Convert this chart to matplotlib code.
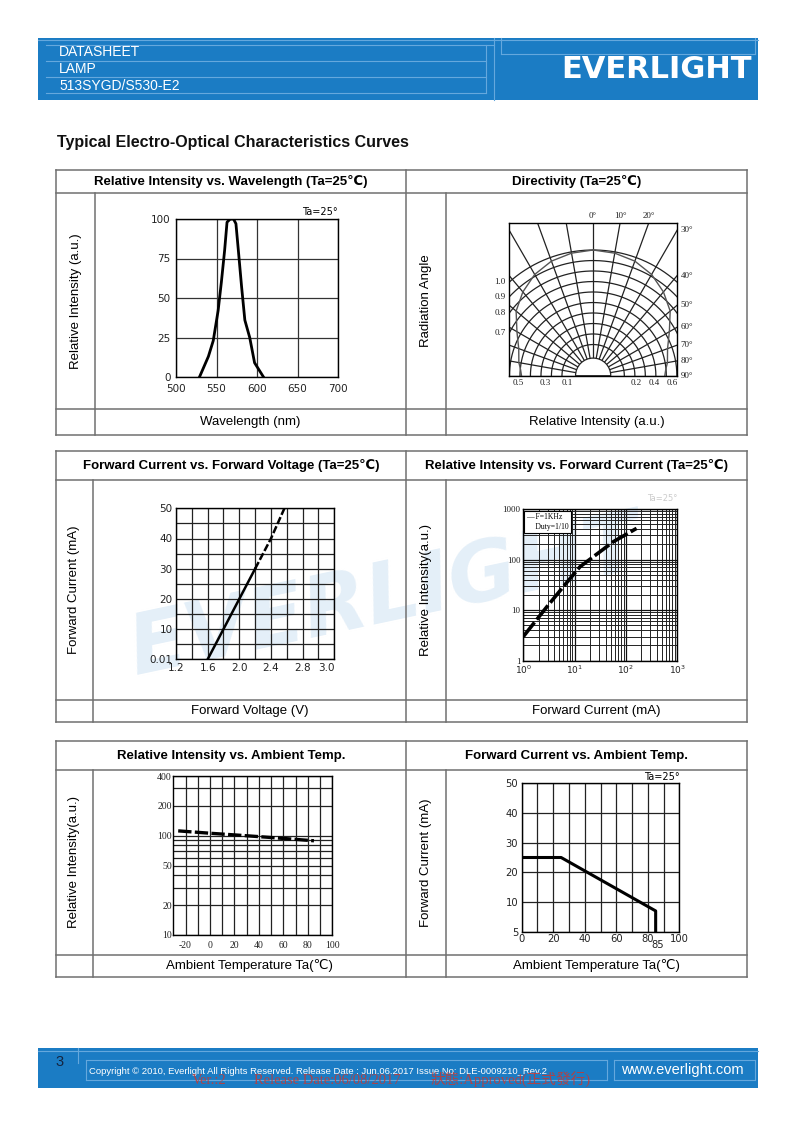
import matplotlib
matplotlib.use("Agg")
import matplotlib.pyplot as plt
import numpy as np
from matplotlib.patches import Rectangle, Wedge
from matplotlib.ticker import NullFormatter, NullLocator

plt.rcParams["font.family"] = ["Liberation Sans", "DejaVu Sans"]

W, H = 794, 1123

# ---- texts ----
doc_lines = ["DATASHEET", "LAMP", "513SYGD/S530-E2"]
page_title = "Typical Electro-Optical Characteristics Curves"
panel_titles = [
    "Relative Intensity vs. Wavelength (Ta=25℃)",
    "Directivity (Ta=25℃)",
    "Forward Current vs. Forward Voltage (Ta=25℃)",
    "Relative Intensity vs. Forward Current (Ta=25℃)",
    "Relative Intensity vs. Ambient Temp.",
    "Forward Current vs. Ambient Temp.",
]
y_titles = ["Relative Intensity (a.u.)", "Radiation Angle", "Forward Current (mA)",
            "Relative Intensity(a.u.)", "Relative Intensity(a.u.)", "Forward Current (mA)"]
x_titles = ["Wavelength (nm)", "Relative Intensity (a.u.)", "Forward Voltage (V)",
            "Forward Current (mA)", "Ambient Temperature Ta(℃)", "Ambient Temperature Ta(℃)"]
copyright_txt = ("Copyright © 2010, Everlight All Rights Reserved. Release Date : Jun.06.2017 "
                 "Issue No: DLE-0009210_Rev.2")
stamp_txt = ["Ver.:2", "Release Date:06/08/2017", "狀態:Approved(正式發行)"]

# ---- data ----
# relative intensity vs wavelength
wl_nm = [529, 540, 546, 552, 556, 560, 563, 567, 571, 574, 577, 581, 585, 591, 597, 608]
wl_rel = [0, 13, 23, 42, 60, 80, 98, 100, 100, 97, 80, 57, 36, 25, 9, 0]
wl_xticks = [500, 550, 600, 650, 700]
wl_yticks = [0, 25, 50, 75, 100]

# directivity (radius 1 = outer ring)
dir_rings = [1.0, 0.916, 0.833, 0.749, 0.666, 0.582, 0.499, 0.415, 0.332, 0.248]
dir_inner = 0.14
dir_angles = list(range(-90, 91, 10))
dir_ring_labels = ["1.0", "0.9", "0.8", "0.7"]
dir_side_angles = [30, 40, 50, 60, 70, 80, 90]
dir_top_angles = [0, 10, 20]
dir_bottom_pos = [-0.597, -0.382, -0.207, 0.342, 0.485, 0.628]
dir_bottom_lbl = ["0.5", "0.3", "0.1", "0.2", "0.4", "0.6"]
pat_angles = [0, 10, 20, 30, 40, 50, 60, 70, 80, 85, 90]
pat_rel = [1.0, 0.99, 0.97, 0.93, 0.87, 0.80, 0.70, 0.63, 0.60, 0.58, 0.57]

# forward current vs forward voltage
vf = [1.6, 1.8, 2.0, 2.2, 2.4, 2.57]
if_ma = [0, 10, 20, 30, 40, 50]
vf_grid = [1.2, 1.4, 1.6, 1.8, 2.0, 2.2, 2.4, 2.6, 2.8, 3.0, 3.2]
vf_lbl = ["1.2", "", "1.6", "", "2.0", "", "2.4", "", "2.8", "3.0", ""]
if_grid = [0, 5, 10, 15, 20, 25, 30, 35, 40, 45, 50]
if_lbl = ["0.01", "", "10", "", "20", "", "30", "", "40", "", "50"]

# relative intensity vs forward current
if_log = [1, 2.85, 7.0, 12.7, 56.6, 161]
rel_if = [3.0, 11.5, 35, 72, 225, 414]

# relative intensity vs ambient temp
ta = [-26, 0, 25, 50, 85]
rel_ta = [112, 106, 101, 96, 89]
ta_grid = list(range(-20, 101, 10))
ta_lbl = ["-20", "", "0", "", "20", "", "40", "", "60", "", "80", "", "100"]
rel_grid = [10, 20, 30, 40, 50, 60, 70, 80, 90, 100, 200, 300, 400]
rel_lbl = ["10", "20", "", "", "50", "", "", "", "", "100", "200", "", "400"]

# forward current vs ambient temp
ta2 = [0, 25, 85, 85]
if_ta = [25, 25, 7, 0]
ta2_grid = list(range(0, 101, 10))
ta2_lbl = ["0", "", "20", "", "40", "", "60", "", "80", "", "100"]
if2_grid = [0, 10, 20, 30, 40, 50]
if2_lbl = ["5", "10", "20", "30", "40", "50"]

BLUE = "#1b7cc4"
LIGHT = "#65a8dd"
LINE = "#707070"

fig = plt.figure(figsize=(W / 100, H / 100), dpi=100)
bg = fig.add_axes([0, 0, 1, 1], zorder=0)
bg.set_xlim(0, W)
bg.set_ylim(H, 0)
bg.axis("off")


def px_axes(x0, y0, x1, y1):
    return fig.add_axes([x0 / W, 1 - y1 / H, (x1 - x0) / W, (y1 - y0) / H], zorder=2)


def grid_axes(box):
    ax = px_axes(*box)
    ax.set_facecolor("none")
    for s in ax.spines.values():
        s.set_linewidth(1.0)
        s.set_color("black")
    ax.tick_params(length=0, which="both")
    return ax


def tick_font(ax, family, size, color="#222222"):
    for t in ax.get_xticklabels() + ax.get_yticklabels():
        t.set_family(family)
        t.set_fontsize(size)
        t.set_color(color)


# ---- header band ----
bg.add_patch(Rectangle((38, 38), 720, 62, facecolor=BLUE, edgecolor="none"))
bg.plot([38, 758], [39.5, 39.5], color=LIGHT, lw=0.8)
bg.plot([46, 494], [44.5, 44.5], color=LIGHT, lw=0.8)
for yy in (61, 77, 93):
    bg.plot([46, 486], [yy, yy], color=LIGHT, lw=0.8)
bg.plot([486, 486], [44.5, 93], color=LIGHT, lw=0.8)
bg.plot([494, 494], [38, 100], color=LIGHT, lw=0.8)
bg.plot([501, 501], [38, 54], color=LIGHT, lw=0.8)
bg.plot([501, 755], [54, 54], color=LIGHT, lw=0.8)
bg.plot([755, 755], [38, 54], color=LIGHT, lw=0.8)
for i, t in enumerate(doc_lines):
    bg.text(59, 52.5 + 16.5 * i, t, color="white", fontsize=10, va="center")
bg.text(656, 70, "EVERLIGHT", color="white", fontsize=22, fontweight="bold",
        family="DejaVu Sans", ha="center", va="center")

# ---- footer band ----
bg.add_patch(Rectangle((38, 1048), 720, 40, facecolor=BLUE, edgecolor="none"))
bg.plot([38, 758], [1051, 1051], color=LIGHT, lw=0.8)
bg.plot([78, 78], [1048, 1063], color=LIGHT, lw=0.8)
for yy in (1060, 1080):
    bg.plot([86, 607], [yy, yy], color=LIGHT, lw=0.8)
    bg.plot([614, 755], [yy, yy], color=LIGHT, lw=0.8)
for xx in (86, 607, 614, 755):
    bg.plot([xx, xx], [1060, 1080], color=LIGHT, lw=0.8)
bg.text(60, 1062, "3", color="#15243f", fontsize=10.5, ha="center", va="center")
bg.text(89, 1071, copyright_txt, color="white", fontsize=6.8, va="center")
for xx, t in zip((192, 254, 430), stamp_txt):
    bg.text(xx, 1080, t, color="#c23a36", fontsize=10.5, va="center", alpha=0.85,
            family=["Liberation Serif", "Noto Sans CJK TC"])
bg.text(682, 1070, "www.everlight.com", color="white", fontsize=10.5, ha="center", va="center")

# ---- title ----
bg.text(57, 142, page_title, fontsize=11.5, fontweight="bold", va="center", color="#111111")

# ---- watermark ----
bg.text(385, 598, "EVERLIGHT", rotation=12, fontsize=60, fontweight="bold", style="italic",
        color="#e4eff8", ha="center", va="center", family="DejaVu Sans", zorder=0)

# ---- tables ----
blocks = [(170, 193, 409, 435, 95), (451, 480, 700, 722, 93), (741, 770, 955, 977, 93)]
XL, XM, XL2, XR = 56, 406, 446, 747
for bi, (top, hb, ft, bot, lab1) in enumerate(blocks):
    for yy in (top, hb, ft, bot):
        bg.plot([XL, XR], [yy, yy], color=LINE, lw=1.1)
    for xx in (XL, XM, XR):
        bg.plot([xx, xx], [top, bot], color=LINE, lw=1.1)
    for xx in (lab1, XL2):
        bg.plot([xx, xx], [hb, bot], color=LINE, lw=1.1)
    bg.text((XL + XM) / 2, (top + hb) / 2, panel_titles[2 * bi], ha="center", va="center",
            fontsize=9.5, fontweight="bold")
    bg.text((XM + XR) / 2, (top + hb) / 2, panel_titles[2 * bi + 1], ha="center", va="center",
            fontsize=9.5, fontweight="bold")
    bg.text((lab1 + XM) / 2, (ft + bot) / 2, x_titles[2 * bi], ha="center", va="center", fontsize=9.5)
    bg.text((XL2 + XR) / 2, (ft + bot) / 2, x_titles[2 * bi + 1], ha="center", va="center", fontsize=9.5)
    bg.text((XL + lab1) / 2, (hb + ft) / 2, y_titles[2 * bi], ha="center", va="center",
            fontsize=9.5, rotation=90)
    bg.text((XM + XL2) / 2, (hb + ft) / 2, y_titles[2 * bi + 1], ha="center", va="center",
            fontsize=9.5, rotation=90)

# ---- chart 1: intensity vs wavelength ----
ax1 = grid_axes((176, 219, 338, 377))
ax1.plot(wl_nm, wl_rel, color="black", lw=2)
ax1.set_xlim(500, 700)
ax1.set_ylim(0, 100)
ax1.set_xticks(wl_xticks)
ax1.set_yticks(wl_yticks)
ax1.grid(True, color="#333333", lw=0.9)
ax1.tick_params(axis="x", pad=5)
ax1.tick_params(axis="y", pad=4)
tick_font(ax1, "DejaVu Sans", 7.5)
ax1.text(1.0, 1.01, "Ta=25°", transform=ax1.transAxes, ha="right", va="bottom",
         fontsize=7, family="DejaVu Sans")

# ---- chart 2: directivity ----
R_PX = 125.7
box2 = (509.3, 222.7, 677, 375.7)
ax2 = px_axes(*box2)
ax2.set_facecolor("none")
hw = (box2[2] - box2[0]) / 2 / R_PX
hh = (box2[3] - box2[1]) / R_PX
ax2.set_xlim(-hw, hw)
ax2.set_ylim(0, hh)
ax2.set_xticks([])
ax2.set_yticks([])
for s in ax2.spines.values():
    s.set_linewidth(1.0)
th = np.linspace(0, np.pi, 300)
for r in dir_rings:
    ax2.plot(r * np.cos(th), r * np.sin(th), color="#222222", lw=0.9)
for a in dir_angles:
    ar = np.radians(a)
    ax2.plot([dir_inner * np.sin(ar), 3 * np.sin(ar)], [dir_inner * np.cos(ar), 3 * np.cos(ar)],
             color="#222222", lw=0.9)
pa = np.radians(pat_angles)
pr = np.array(pat_rel)
ax2.plot(pr * np.sin(pa), pr * np.cos(pa), color="#555555", lw=1.0)
ax2.plot(-pr * np.sin(pa), pr * np.cos(pa), color="#555555", lw=1.0)
ax2.add_patch(Wedge((0, 0), dir_inner, 0, 180, facecolor="white", edgecolor="#222222", lw=0.9, zorder=3))
sfont = dict(family="Liberation Serif", fontsize=6.5, color="#222222")
for r, lbl in zip(dir_rings, dir_ring_labels):
    ax2.text(-hw - 0.03, np.sqrt(r ** 2 - hw ** 2), lbl, ha="right", va="center", clip_on=False, **sfont)
for a in dir_side_angles:
    yy = hw / np.tan(np.radians(a)) if a < 90 else 0.0
    ax2.text(hw + 0.03, yy, f"{a}°", ha="left", va="center", clip_on=False, **sfont)
for a in dir_top_angles:
    ax2.text(hh * np.tan(np.radians(a)), hh + 0.02, f"{a}°", ha="center", va="bottom",
             clip_on=False, **sfont)
for xx, lbl in zip(dir_bottom_pos, dir_bottom_lbl):
    ax2.text(xx, -0.03, lbl, ha="center", va="top", clip_on=False, **sfont)

# ---- chart 3: IF vs VF ----
ax3 = grid_axes((176, 508.3, 334.3, 659.3))
ax3.plot(vf[:4], if_ma[:4], color="black", lw=1.8)
ax3.plot(vf[3:], if_ma[3:], color="black", lw=1.8, ls=(0, (3, 1)))
ax3.set_xlim(vf_grid[0], vf_grid[-1])
ax3.set_ylim(if_grid[0], if_grid[-1])
ax3.set_xticks(vf_grid)
ax3.set_xticklabels(vf_lbl)
ax3.set_yticks(if_grid)
ax3.set_yticklabels(if_lbl)
ax3.grid(True, color="#222222", lw=0.9)
ax3.tick_params(axis="x", pad=2.5)
ax3.tick_params(axis="y", pad=2.5)
tick_font(ax3, "DejaVu Sans", 7.5)
ax3.get_xticklabels()[9].set_horizontalalignment("left")

# ---- chart 4: intensity vs IF ----
ax4 = grid_axes((523.3, 509, 677.3, 660.7))
ax4.set_xscale("log")
ax4.set_yscale("log")
ax4.plot(if_log, rel_if, color="black", lw=2.6, ls=(0, (5, 1)))
ax4.set_xlim(1, 1000)
ax4.set_ylim(1, 1000)
ax4.set_xticks([1, 10, 100, 1000])
ax4.set_xticklabels(["$10^0$", "$10^1$", "$10^2$", "$10^3$"])
ax4.set_yticks([1, 10, 100, 1000])
ax4.set_yticklabels(["1", "10", "100", "1000"])
ax4.xaxis.set_minor_formatter(NullFormatter())
ax4.yaxis.set_minor_formatter(NullFormatter())
ax4.grid(True, which="major", color="#111111", lw=0.9)
ax4.grid(True, which="minor", color="#222222", lw=0.7)
ax4.tick_params(axis="both", which="both", length=0, pad=2)
tick_font(ax4, "Liberation Serif", 6.5)
ax4.text(0.02, 0.975, "— F=1KHz\n     Duty=1/10", transform=ax4.transAxes, ha="left", va="top",
         fontsize=5.5, family="Liberation Serif", linespacing=1.3,
         bbox=dict(boxstyle="square,pad=0.3", facecolor="white", edgecolor="black", lw=0.8))
ax4.text(1.0, 1.04, "Ta=25°", transform=ax4.transAxes, ha="right", va="bottom",
         fontsize=6, color="#cccccc", family="DejaVu Sans")

# ---- chart 5: intensity vs ambient temp ----
ax5 = grid_axes((173.3, 776, 332.3, 935))
ax5.set_yscale("log")
ax5.plot(ta, rel_ta, color="black", lw=2.4, ls=(0, (4, 1)))
ax5.set_xlim(-30, 100)
ax5.set_ylim(10, 400)
ax5.set_xticks(ta_grid)
ax5.set_xticklabels(ta_lbl)
ax5.set_yticks(rel_grid)
ax5.set_yticklabels(rel_lbl)
ax5.yaxis.set_minor_locator(NullLocator())
ax5.grid(True, color="#222222", lw=0.9)
ax5.tick_params(axis="x", pad=4)
ax5.tick_params(axis="y", pad=1)
tick_font(ax5, "Liberation Serif", 7)

# ---- chart 6: IF vs ambient temp ----
ax6 = grid_axes((521.7, 783.3, 679.3, 931.7))
ax6.plot(ta2, if_ta, color="black", lw=2.2)
ax6.set_xlim(ta2_grid[0], ta2_grid[-1])
ax6.set_ylim(if2_grid[0], if2_grid[-1])
ax6.set_xticks(ta2_grid)
ax6.set_xticklabels(ta2_lbl)
ax6.set_yticks(if2_grid)
ax6.set_yticklabels(if2_lbl)
ax6.grid(True, color="#222222", lw=0.9)
ax6.tick_params(axis="x", pad=1.5)
ax6.tick_params(axis="y", pad=2.5)
tick_font(ax6, "DejaVu Sans", 7.2)
ax6.text(ta2[-1] + 1, -0.055, "85", transform=ax6.get_xaxis_transform(), ha="center", va="top",
         fontsize=7.2, family="DejaVu Sans", color="#222222")
ax6.text(1.0, 1.01, "Ta=25°", transform=ax6.transAxes, ha="right", va="bottom",
         fontsize=7, family="DejaVu Sans")

fig.savefig("out.png", dpi=100)
